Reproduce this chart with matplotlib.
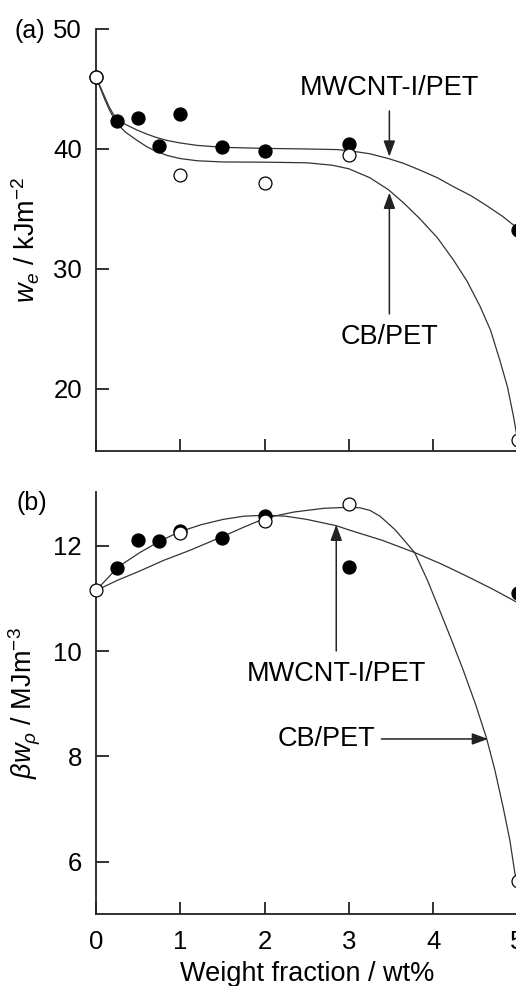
import matplotlib
matplotlib.use("Agg")
import matplotlib.pyplot as plt

plt.rcParams['font.family'] = ['Liberation Sans', 'DejaVu Sans']
plt.rcParams['mathtext.fontset'] = 'custom'
plt.rcParams['mathtext.rm'] = 'Liberation Sans'
plt.rcParams['mathtext.it'] = 'Liberation Sans:italic'

# ---- Panel (a): essential work of fracture w_e ----
a_cnt_x = [0, 0.25, 0.5, 0.75, 1, 1.5, 2, 3, 5]
a_cnt_y = [46.0, 42.33, 42.56, 40.28, 42.89, 40.14, 39.83, 40.39, 33.25]
a_cb_x = [0, 1, 2, 3, 5]
a_cb_y = [45.97, 37.83, 37.2, 39.5, 15.75]

a_cnt_fit_x = [0, 0.05, 0.1, 0.15, 0.2, 0.265, 0.35, 0.48, 0.6, 0.72, 0.85, 1.0, 1.2, 1.5, 2.0, 2.5, 2.86, 3.0, 3.25, 3.47, 3.65, 3.84, 4.05, 4.24, 4.45, 4.63, 4.82, 5.0]
a_cnt_fit_y = [46.0, 45.2, 44.4, 43.6, 42.95, 42.4, 42.05, 41.6, 41.25, 40.95, 40.7, 40.5, 40.3, 40.14, 40.05, 40.0, 39.95, 39.86, 39.6, 39.2, 38.8, 38.25, 37.6, 36.86, 36.1, 35.3, 34.4, 33.4]
a_cb_fit_x = [0, 0.05, 0.1, 0.15, 0.2, 0.265, 0.35, 0.48, 0.6, 0.72, 0.85, 1.0, 1.2, 1.5, 2.0, 2.5, 2.8, 3.0, 3.25, 3.47, 3.65, 3.84, 4.05, 4.24, 4.4, 4.555, 4.68, 4.79, 4.88, 4.95, 5.0]
a_cb_fit_y = [46.0, 45.1, 44.2, 43.4, 42.7, 42.0, 41.4, 40.75, 40.2, 39.78, 39.45, 39.2, 39.02, 38.92, 38.9, 38.85, 38.65, 38.35, 37.6, 36.6, 35.5, 34.2, 32.6, 30.75, 29.0, 26.9, 24.9, 22.4, 20.2, 17.8, 15.8]

# ---- Panel (b): beta w_p ----
b_cnt_x = [0.25, 0.5, 0.75, 1, 1.5, 2, 3, 5]
b_cnt_y = [11.58, 12.11, 12.08, 12.28, 12.15, 12.56, 11.6, 11.11]
b_cb_x = [0, 1, 2, 3, 5]
b_cb_y = [11.15, 12.25, 12.46, 12.79, 5.64]

b_cnt_fit_x = [0, 0.1, 0.265, 0.52, 0.76, 1.0, 1.25, 1.51, 1.75, 2.02, 2.25, 2.5, 2.85, 3.0, 3.4, 3.78, 4.1, 4.4, 4.7, 5.0]
b_cnt_fit_y = [11.15, 11.32, 11.6, 11.87, 12.09, 12.27, 12.4, 12.5, 12.56, 12.58, 12.56, 12.5, 12.38, 12.3, 12.1, 11.87, 11.65, 11.42, 11.18, 10.92]
b_cb_fit_x = [0, 0.25, 0.52, 0.8, 1.11, 1.51, 1.75, 2.02, 2.35, 2.7, 3.0, 3.13, 3.25, 3.37, 3.55, 3.78, 3.93, 4.08, 4.22, 4.36, 4.5, 4.63, 4.73, 4.83, 4.91, 4.97, 5.0]
b_cb_fit_y = [11.15, 11.34, 11.52, 11.72, 11.91, 12.18, 12.35, 12.53, 12.64, 12.71, 12.73, 12.72, 12.67, 12.56, 12.3, 11.87, 11.35, 10.76, 10.2, 9.62, 9.0, 8.36, 7.75, 7.03, 6.4, 5.77, 5.64]

x_ticks = [0, 1, 2, 3, 4, 5]
a_yticks = [20, 30, 40, 50]
b_yticks = [6, 8, 10, 12]

W, H = 516, 986
fig = plt.figure(figsize=(W / 100, H / 100), dpi=100)
left = 96 / W
width = 421.5 / W
ax1 = fig.add_axes([left, 1 - 451 / H, width, 422 / H])
ax2 = fig.add_axes([left, 1 - 914.3 / H, width, (914.3 - 492) / H])

line_kw = dict(color='#333333', lw=0.9, zorder=2)
fill_kw = dict(marker='o', ls='none', ms=9.3, mfc='black', mec='black', zorder=3, clip_on=False)
open_kw = dict(marker='o', ls='none', ms=9.3, mfc='white', mec='black', mew=0.9, zorder=4, clip_on=False)

TICK_FS = 18.5
ANN_FS = 19.5
LAB_FS = 19.5

for ax in (ax1, ax2):
    for s in ('top', 'right'):
        ax.spines[s].set_visible(False)
    for s in ('left', 'bottom'):
        ax.spines[s].set_linewidth(1.3)
        ax.spines[s].set_color('#222222')
    ax.tick_params(direction='in', length=9, width=1.3, labelsize=TICK_FS, pad=10, color='#222222')
    ax.set_xlim(0, 5)
    ax.set_xticks(x_ticks)

# panel a
ax1.plot(a_cnt_fit_x, a_cnt_fit_y, **line_kw)
ax1.plot(a_cb_fit_x, a_cb_fit_y, **line_kw)
ax1.plot(a_cnt_x, a_cnt_y, **fill_kw)
ax1.plot(a_cb_x, a_cb_y, **open_kw)
ax1.set_ylim(14.83, 50)
ax1.set_yticks(a_yticks)
ax1.tick_params(axis='x', labelbottom=False)
ax1.set_ylabel(r'$w_e$ / kJm$^{-2}$', fontsize=LAB_FS)
ax1.yaxis.set_label_coords(-0.128, 0.5)

arrow_kw = dict(arrowstyle='-|>,head_length=0.6,head_width=0.22', color='#222222', lw=1.1,
                shrinkA=0, shrinkB=0, mutation_scale=16)
ax1.annotate('MWCNT-I/PET', xy=(3.48, 39.36), xytext=(3.48, 45.06), ha='center', va='center',
             fontsize=ANN_FS, arrowprops=dict(arrow_kw, relpos=(0.5, 0.0), shrinkA=5))
ax1.annotate('CB/PET', xy=(3.48, 36.36), xytext=(3.48, 24.36), ha='center', va='center',
             fontsize=ANN_FS, arrowprops=dict(arrow_kw, relpos=(0.5, 1.0), shrinkA=5))

# panel b
ax2.plot(b_cnt_fit_x, b_cnt_fit_y, **line_kw)
ax2.plot(b_cb_fit_x, b_cb_fit_y, **line_kw)
ax2.plot(b_cnt_x, b_cnt_y, **fill_kw)
ax2.plot(b_cb_x, b_cb_y, **open_kw)
ax2.set_ylim(5.0, 13.02)
ax2.set_yticks(b_yticks)
ax2.tick_params(axis='x', pad=11)
ax2.set_ylabel(r'$\beta w_\rho$ / MJm$^{-3}$', fontsize=LAB_FS)
ax2.yaxis.set_label_coords(-0.126, 0.5)
ax2.set_xlabel('Weight fraction / wt%', fontsize=LAB_FS, labelpad=5)

ax2.annotate('MWCNT-I/PET', xy=(2.85, 12.4), xytext=(2.85, 9.57), ha='center', va='center',
             fontsize=ANN_FS, arrowprops=dict(arrow_kw, relpos=(0.5, 1.0), shrinkA=5))
ax2.annotate('CB/PET', xy=(4.65, 8.33), xytext=(2.16, 8.33), ha='left', va='center',
             fontsize=ANN_FS, arrowprops=dict(arrow_kw, relpos=(1.0, 0.5), shrinkA=2))

fig.text(15 / W, 1 - 31 / H, '(a)', fontsize=18, ha='left', va='center')
fig.text(17 / W, 1 - 503 / H, '(b)', fontsize=18, ha='left', va='center')

fig.savefig('out.png', dpi=100)
